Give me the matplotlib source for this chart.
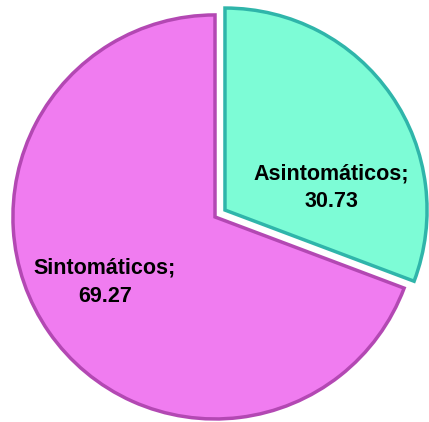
import matplotlib.pyplot as plt

# datos
categorias = ['Asintomáticos', 'Sintomáticos']
valores = [30.73, 69.27]
colores = ['#7DFCD6', '#F07CF0']
bordes = ['#2FB5AA', '#B348B3']

fig = plt.figure(figsize=(4.29, 4.22), dpi=100)
ax = fig.add_axes([0, 0, 1, 1])

wedges, _ = ax.pie(valores, colors=colores, startangle=90, counterclock=False,
                   explode=[0.06, 0], radius=1.0,
                   wedgeprops=dict(linewidth=2.5))
for w, b in zip(wedges, bordes):
    w.set_edgecolor(b)

# etiquetas
pos_etiquetas = [(0.574, 0.144), (-0.545, -0.322)]
for cat, val, (x, y) in zip(categorias, valores, pos_etiquetas):
    ax.text(x, y, f'{cat};\n{val:.2f}', ha='center', va='center',
            fontsize=15.5, fontweight='bold', linespacing=1.45,
            family=['Liberation Sans', 'DejaVu Sans'])

ax.set_xlim(-1.064, 1.059)
ax.set_ylim(-1.015, 1.074)
ax.set_aspect('auto')
ax.axis('off')

fig.savefig('out.png', dpi=100)
